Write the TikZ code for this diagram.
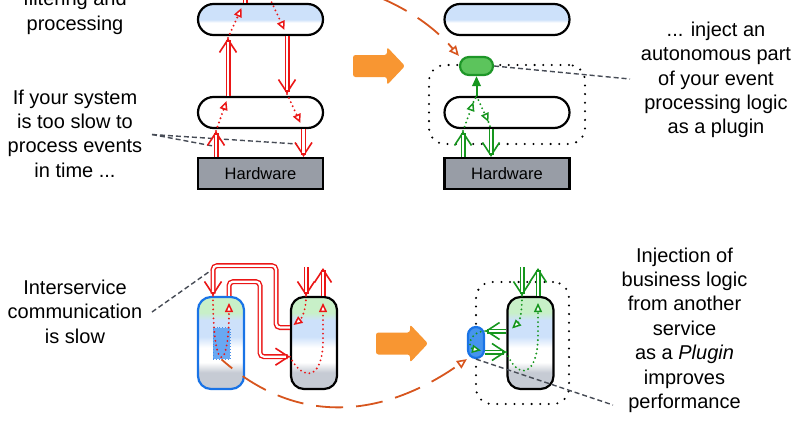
\documentclass[tikz,border=0pt]{standalone}
\usepackage{fontspec}
\setmainfont{Liberation Sans}
\usetikzlibrary{arrows.meta}
\definecolor{cred}{RGB}{235,22,22}
\definecolor{cgreen}{RGB}{22,150,30}
\definecolor{plugG}{RGB}{92,196,92}
\definecolor{plugGd}{RGB}{30,150,40}
\definecolor{cgray}{RGB}{70,75,85}
\definecolor{corange}{RGB}{248,150,50}
\definecolor{cdash}{RGB}{215,85,30}
\definecolor{cblue}{RGB}{25,115,230}
\definecolor{lblue}{RGB}{205,225,250}
\definecolor{lgreen}{RGB}{200,240,200}
\definecolor{lgrey}{RGB}{198,203,212}
\definecolor{hwgray}{RGB}{152,157,166}
\definecolor{mblue}{RGB}{105,168,242}
\definecolor{pblue}{RGB}{70,148,238}
\pgfdeclareverticalshading{layershade}{100bp}{color(0bp)=(white); color(45bp)=(white); color(50bp)=(lblue); color(100bp)=(lblue)}
\pgfdeclareverticalshading{svcshade}{100bp}{color(0bp)=(lgrey); color(34bp)=(lgrey); color(39.5bp)=(white); color(47.5bp)=(white); color(53.5bp)=(lblue); color(62.5bp)=(lblue); color(66.5bp)=(lgreen); color(100bp)=(lgreen)}
\begin{document}
\begin{tikzpicture}[x=1pt, y=-1pt,
 layer/.style={draw=black, line width=2.2pt, rounded corners=15.5pt, minimum width=125pt, minimum height=31pt, inner sep=0pt},
 hwbox/.style={draw=black, line width=2.2pt, fill=hwgray, minimum width=125pt, minimum height=31pt, inner sep=0pt, font=\fontsize{16.5}{18}\selectfont},
 svc/.style={line width=2.2pt, rounded corners=13pt, minimum width=46pt, minimum height=92pt, inner sep=0pt, shading=svcshade},
 gplug/.style={draw=plugGd, fill=plugG, line width=2.2pt, rounded corners=9pt, minimum width=33pt, minimum height=18pt, inner sep=0pt},
 bplug/.style={draw=cblue, fill=pblue, line width=2.2pt, rounded corners=8pt, minimum width=16pt, minimum height=31pt, inner sep=0pt},
 ibox/.style={draw=cblue!80, fill=mblue, line width=0.9pt, dotted, minimum width=17pt, minimum height=31.3pt, inner sep=0pt},
 dotbox/.style={draw=black, line width=2.3pt, dash pattern=on 0pt off 8.6pt, line cap=round, rounded corners=16pt, inner sep=0pt},
 txt/.style={align=center, font=\fontsize{20}{24.4}\selectfont, inner sep=0pt, anchor=north},
 pipe/.style={draw=#1, line width=5pt, postaction={draw=white, line width=2.2pt, arrows=-, shorten >=4pt}},
 vend/.style={-{Straight Barb[length=13pt, width=17pt, line width=1.6pt]}},
 dotl/.style={draw=#1, line width=2.1pt, dash pattern=on 0pt off 4.5pt, line cap=round},
 tri/.style={-{Triangle[length=9pt, width=8pt, line width=1.5pt, fill=white]}},
 gsolid/.style={draw=cgreen, line width=2pt, -{Triangle[length=10pt, width=8.5pt]}},
 gdash/.style={draw=cgray, line width=1.4pt, dash pattern=on 5pt off 3pt},
 odash/.style={draw=cdash, line width=1.8pt, dash pattern=on 27pt off 13pt, -{Triangle[open, length=10pt, width=9pt, line width=1.6pt]}},
 bigarrow/.style={fill=corange, rounded corners=2.5pt}
]
\useasboundingbox (0,0) rectangle (800,421);
\fill[white] (0,0) rectangle (800,421);
\clip (0,0) rectangle (800,421);

% texts
\node[txt] (t1) at (75,-9) {filtering and\\processing};
\node[txt] (t2) at (75,89.4) {If your system\\is too slow to\\process events\\in time ...};
\node[txt] (t3) at (716,21.7) {... inject an\\autonomous part\\of your event\\processing logic\\as a plugin};
\node[txt] (t4) at (75,279.7) {Interservice\\communication\\is slow};
\node[txt] (t5) at (684.5,247.4) {Injection of\\business logic\\from another\\service\\as a \textit{Plugin}\\improves\\performance};

% big arrows
\fill[bigarrow] (353,55) -- (387,55) -- (387,47) -- (405,66) -- (387,85) -- (387,77) -- (353,77) -- cycle;
\fill[bigarrow] (376,332.5) -- (410,332.5) -- (410,324.5) -- (428,343.5) -- (410,362.5) -- (410,354.5) -- (376,354.5) -- cycle;

% ---------- nodes
\node[layer, shading=layershade] (tl1) at (260.5,19.5) {};
\node[layer, fill=white] (tl2) at (260.5,112.5) {};
\node[hwbox] (hw1) at (260.5,173.5) {Hardware};

\node[layer, shading=layershade] (tr1) at (507,19.5) {};
\node[dotbox, minimum width=156pt, minimum height=79pt] (db1) at (507,104.5) {};
\node[layer, fill=white] (tr2) at (507,112.5) {};
\node[hwbox] (hw2) at (507,173.5) {Hardware};
\node[gplug] (gp) at (476.5,66) {};

\node[svc, draw=cblue] (s1) at (221,343) {};
\node[svc, draw=black] (s2) at (314,343) {};
\node[ibox] (ib) at (221.5,343.3) {};

\node[dotbox, minimum width=93pt, minimum height=122pt] (db2) at (522.5,343) {};
\node[svc, draw=black] (s3) at (530.5,343) {};
\node[bplug] (bp) at (476,342.5) {};

% ---------- coordinates
\coordinate (r1) at (216,131);
\coordinate (r2) at (226.5,101);
\coordinate (r3) at (228,38);
\coordinate (r4) at (241.5,8);
\coordinate (r5) at (245,-20);
\coordinate (r6) at (266,-10);
\coordinate (r7) at (284.5,30);
\coordinate (r8) at (287,94);
\coordinate (r9) at (300.5,123);
\coordinate (g1) at (152,134.5);
\coordinate (g2) at (213,146);
\coordinate (g3) at (297,144);
\coordinate (q1) at (463,131);
\coordinate (q2) at (473.5,102);
\coordinate (q3) at (476.5,96);
\coordinate (q4) at (488.5,122);
\coordinate (g4) at (630,79);
\coordinate (o1) at (345,-15);
\coordinate (g5) at (152,312);
\coordinate (g6) at (213,269);
\coordinate (b1) at (306,267);
\coordinate (b2) at (323,268);
\coordinate (b5) at (293.5,325);
\coordinate (b6) at (229,303);
\coordinate (b7) at (323,303);
\coordinate (b3) at (522,267);
\coordinate (b4) at (538,268);
\coordinate (b8) at (512,328.5);
\coordinate (b9) at (481,350.5);
\coordinate (b10) at (538,303);
\coordinate (g7) at (613,405);

% ---------- gray dashed callouts
\draw[gdash] (g1) -- (g2);
\draw[gdash] (g1) -- (g3);
\draw[gdash] (gp.east) -- (g4);
\draw[gdash] (g5) -- (g6);

% ---------- top left (red)
\draw[pipe=cred, vend] ([xshift=-44.5pt]hw1.north) -- (r1);
\draw[dotl=cred, tri] (r1) -- (r2);
\draw[pipe=cred, vend] ([xshift=-32.5pt]tl2.north) -- (r3);
\draw[dotl=cred, tri] (r3) -- (r4);
\draw[pipe=cred] ([xshift=-15.5pt]tl1.north) -- (r5);
\draw[dotl=cred, tri] (r6) -- (r7);
\draw[pipe=cred, vend] ([xshift=26.5pt]tl1.south) -- (r8);
\draw[dotl=cred, tri] (r8) -- (r9);
\draw[pipe=cred, vend] ([xshift=43pt]tl2.south) -- ([xshift=43pt]hw1.north);

% ---------- top right (green)
\draw[pipe=cgreen, vend] ([xshift=-44pt]hw2.north) -- (q1);
\draw[dotl=cgreen, tri] (q1) -- (q2);
\draw[dotl=cgreen] (q2) -- (q3);
\draw[gsolid] (q3) -- (gp.south);
\draw[dotl=cgreen, tri] (q3) -- (q4);
\draw[dotl=cgreen] (q4) -- ([xshift=-16pt]tr2.south);
\draw[pipe=cgreen, vend] ([xshift=-16pt]tr2.south) -- ([xshift=-16pt]hw2.north);
\draw[odash] (o1) .. controls (395,0) and (430,22) .. (gp.north west);

% ---------- bottom left (red)
\draw[pipe=cred, vend] (b1) -- ([xshift=-8pt]s2.north);
\draw[dotl=cred, tri] ([xshift=-8pt]s2.north) .. controls (306,314) and (300,320) .. (b5);
\draw[pipe=cred, vend, rounded corners=4pt] ([yshift=15.5pt]s2.west) -- (276,327.5) -- (276,265.7) -- (213,265.7) -- ([xshift=-8pt]s1.north);
\draw[dotl=cred, tri] ([xshift=-8pt]s1.north) .. controls (213,378) and (229,372) .. (b6);
\draw[pipe=cred, vend, rounded corners=4pt] ([xshift=8pt]s1.north) -- (229,281.7) -- (260,281.7) -- (260,356.7) -- ([yshift=-13.7pt]s2.west);
\draw[dotl=cred, tri] ([yshift=-13.7pt]s2.west) .. controls (303,382) and (323,380) .. (323,340) -- (b7);
\draw[pipe=cred, vend] ([xshift=9pt]s2.north) -- (b2);

% ---------- bottom right (green)
\draw[pipe=cgreen, vend] (b3) -- ([xshift=-8.5pt]s3.north);
\draw[pipe=cgreen, vend] ([xshift=7.5pt]s3.north) -- (b4);
\draw[dotl=cgreen, tri] ([xshift=-8.5pt]s3.north) .. controls (522,316) and (519,322) .. (b8);
\draw[pipe=cgreen, vend] ([yshift=12pt]s3.west) -- ([yshift=11.5pt]bp.east);
\draw[dotl=cgreen, tri] ([yshift=11.5pt]bp.east) .. controls (468,332) and (468,348) .. (b9);
\draw[pipe=cgreen, vend] ([yshift=-9.5pt]bp.east) -- ([yshift=-9pt]s3.west);
\draw[dotl=cgreen, tri] ([yshift=-9pt]s3.west) .. controls (517,380) and (538,378) .. (538,335) -- (b10);
\draw[gdash] (bp.south) -- (g7);
\draw[odash, dash phase=13pt] (ib.south) .. controls (295,425) and (380,420) .. (bp.south west);
\end{tikzpicture}
\end{document}
